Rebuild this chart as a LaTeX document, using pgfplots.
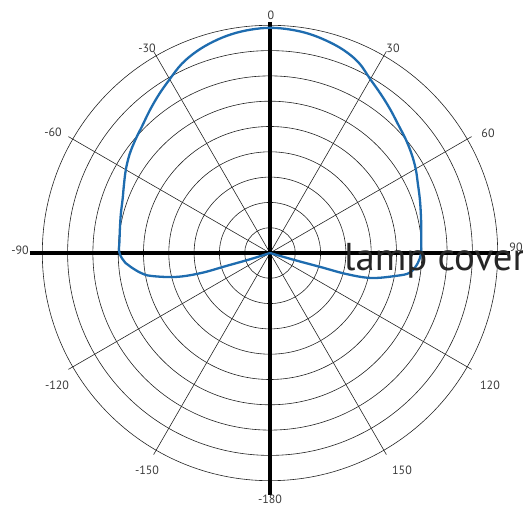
\documentclass[border=0pt]{standalone}
\usepackage{pgfplots}
\pgfplotsset{compat=1.18}
\usepackage{pgfplotstable}
\usepackage{fontspec}
\setmainfont{PT Sans}
\definecolor{lampblue}{RGB}{30,108,175}
\definecolor{gridc}{RGB}{35,35,35}
\definecolor{labc}{RGB}{60,60,60}
% angle t: degrees clockwise from top; r: rings
\pgfplotstableread{
t r
-107 0.0
-107.5 0.79
-106.5 1.81
-106.2 2.84
-104.3 3.83
-100.9 4.79
-98.8 5.16
-96 5.5
-94 5.72
-90 5.95
-85 5.97
-80 6.02
-75 6.1
-70 6.2
-65 6.37
-60 6.58
-55 6.78
-50 6.95
-45 7.13
-40 7.38
-35 7.65
-30 7.93
-25 8.25
-20 8.48
-15 8.65
-10 8.78
-5 8.86
0 8.9
5 8.87
10 8.8
15 8.68
20 8.53
25 8.3
30 7.93
35 7.65
40 7.4
45 7.17
50 7.0
55 6.83
60 6.65
65 6.45
70 6.3
75 6.17
80 6.07
85 6.0
90 5.97
94 5.85
98 5.58
100.3 5.06
103.9 4.11
105.4 3.12
105.5 2.09
106 1.0
106 0.0
}\lamp
\begin{document}
\begin{tikzpicture}
\begin{axis}[
  hide axis,
  x=25.3pt, y=25.3pt,
  xmin=-9.6, xmax=9.6, ymin=-9.6, ymax=9.6,
  clip=false,
  scale only axis,
]
\coordinate (C) at (axis cs:0,0);
\pgfplotsinvokeforeach{1,...,9}{
  \draw[gridc, line width=0.6pt] (axis cs:0,0) circle[radius=#1];
}
\addplot[data cs=polar, gridc, line width=0.6pt] coordinates {(60,9.2) (240,9.2)};
\addplot[data cs=polar, gridc, line width=0.6pt] coordinates {(30,9.2) (210,9.2)};
\addplot[data cs=polar, gridc, line width=0.6pt] coordinates {(120,9.2) (300,9.2)};
\addplot[data cs=polar, gridc, line width=0.6pt] coordinates {(150,9.2) (330,9.2)};
\addplot[black, line width=3.8pt] coordinates {(-9.5,0) (9.5,0)};
\addplot[black, line width=3.8pt] coordinates {(0,9.13) (0,-9.56)};
\addplot[data cs=polar, lampblue, line width=2.3pt, smooth, tension=0.6]
  table[x expr=90-\thisrow{t}, y=r] {\lamp};
\end{axis}
\begin{scope}[every node/.style={font=\fontsize{12}{12}\selectfont, text=labc, inner sep=0pt}]
\node at ([shift={(1pt,238pt)}]C) {0};
\node at ([shift={(-123pt,205pt)}]C) {-30};
\node at ([shift={(123pt,205pt)}]C) {30};
\node at ([shift={(-217pt,121pt)}]C) {-60};
\node at ([shift={(218pt,120pt)}]C) {60};
\node at ([shift={(-250pt,3pt)}]C) {-90};
\node at ([shift={(246pt,6pt)}]C) {90};
\node at ([shift={(-213pt,-132pt)}]C) {-120};
\node at ([shift={(220pt,-132pt)}]C) {120};
\node at ([shift={(-123pt,-217pt)}]C) {-150};
\node at ([shift={(132pt,-217pt)}]C) {150};
\node at ([shift={(0pt,-246pt)}]C) {-180};
\end{scope}
\node[anchor=base west, inner sep=0pt, font=\fontsize{38.8}{38.8}\selectfont, text=black!85] at ([shift={(74pt,-18pt)}]C) {lamp cover};
\pgfresetboundingbox
\path[use as bounding box] ([shift={(-270pt,-253pt)}]C) rectangle ([shift={(253pt,253pt)}]C);
\end{tikzpicture}
\end{document}
